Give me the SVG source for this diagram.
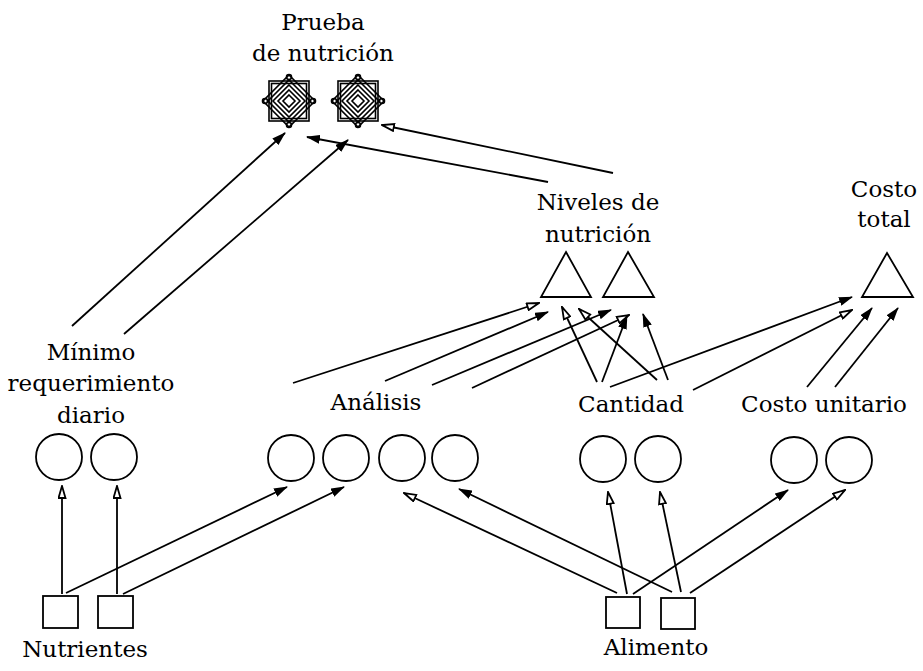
<svg xmlns="http://www.w3.org/2000/svg" width="923" height="671" viewBox="0 0 923 671">
  <style>
    .lbl { font-family: "DejaVu Serif", "Liberation Serif", serif; font-size: 23px; fill: #000; text-anchor: middle; }
    .shape { fill: #fff; stroke: #000; stroke-width: 1.8; }
    .edge { fill: none; stroke: #000; stroke-width: 1.8; }
    .icon { fill: none; stroke: #000; stroke-width: 1.6; }
  </style>
  <defs>
    <marker id="arrFill" viewBox="0 0 14 9" refX="13" refY="4.5" markerWidth="14" markerHeight="9" markerUnits="userSpaceOnUse" orient="auto">
      <path d="M0,0 L14,4.5 L0,9 Z" fill="#000"/>
    </marker>
    <marker id="arrOpen" viewBox="0 0 14 9" refX="13" refY="4.5" markerWidth="14" markerHeight="9" markerUnits="userSpaceOnUse" orient="auto">
      <path d="M1,1 L13,4.5 L1,8 Z" fill="#fff" stroke="#000" stroke-width="1.8"/>
    </marker>
    <!-- octagram badge with nested diamonds -->
    <g id="testIcon">
      <rect x="-20" y="-20" width="40" height="40" class="icon" fill="#fff"/>
      <rect x="-17.5" y="-17.5" width="35" height="35" class="icon"/>
      <polygon points="0,-26 26,0 0,26 -26,0" class="icon"/>
      <polygon points="0,-21 21,0 0,21 -21,0" class="icon"/>
      <polygon points="0,-16 16,0 0,16 -16,0" class="icon"/>
      <polygon points="0,-11 11,0 0,11 -11,0" class="icon"/>
      <polygon points="0,-6 6,0 0,6 -6,0" class="icon"/>
      <circle cx="0" cy="-24" r="2.5" class="icon"/>
      <circle cx="24" cy="0" r="2.5" class="icon"/>
      <circle cx="0" cy="24" r="2.5" class="icon"/>
      <circle cx="-24" cy="0" r="2.5" class="icon"/>
    </g>
  </defs>

  <rect width="923" height="671" fill="#fff"/>

  <!-- connectors -->
  <g id="connectors">
    <!-- Nutrientes to Mínimo requerimiento diario -->
    <line class="edge" x1="62" y1="594" x2="62" y2="486" marker-end="url(#arrOpen)"/>
    <line class="edge" x1="117" y1="594" x2="117" y2="486" marker-end="url(#arrOpen)"/>
    <!-- Nutrientes to Análisis -->
    <line class="edge" x1="66" y1="593" x2="287" y2="487" marker-end="url(#arrFill)"/>
    <line class="edge" x1="123" y1="594" x2="344" y2="487" marker-end="url(#arrFill)"/>
    <!-- Alimento to Análisis -->
    <line class="edge" x1="617" y1="593" x2="404" y2="493" marker-end="url(#arrOpen)"/>
    <line class="edge" x1="672" y1="592" x2="459" y2="489" marker-end="url(#arrFill)"/>
    <!-- Alimento to Cantidad -->
    <line class="edge" x1="627" y1="594" x2="608" y2="492" marker-end="url(#arrOpen)"/>
    <line class="edge" x1="681" y1="592" x2="660" y2="492" marker-end="url(#arrOpen)"/>
    <!-- Alimento to Costo unitario -->
    <line class="edge" x1="633" y1="594" x2="788" y2="490" marker-end="url(#arrFill)"/>
    <line class="edge" x1="690" y1="593" x2="845" y2="490" marker-end="url(#arrOpen)"/>
    <!-- Análisis to Niveles de nutrición -->
    <line class="edge" x1="293" y1="383" x2="539" y2="303" marker-end="url(#arrOpen)"/>
    <line class="edge" x1="385" y1="381" x2="548" y2="312" marker-end="url(#arrFill)"/>
    <line class="edge" x1="432" y1="385" x2="611" y2="310" marker-end="url(#arrFill)"/>
    <line class="edge" x1="472" y1="388" x2="629" y2="315" marker-end="url(#arrOpen)"/>
    <!-- Cantidad to Niveles de nutrición -->
    <line class="edge" x1="597" y1="382" x2="562" y2="307" marker-end="url(#arrOpen)"/>
    <line class="edge" x1="602" y1="382" x2="627" y2="316" marker-end="url(#arrFill)"/>
    <line class="edge" x1="657" y1="380" x2="579" y2="309" marker-end="url(#arrOpen)"/>
    <line class="edge" x1="668" y1="380" x2="643" y2="314" marker-end="url(#arrFill)"/>
    <!-- Cantidad to Costo total -->
    <line class="edge" x1="610" y1="387" x2="852" y2="297" marker-end="url(#arrFill)"/>
    <line class="edge" x1="693" y1="390" x2="852" y2="310" marker-end="url(#arrOpen)"/>
    <!-- Costo unitario to Costo total -->
    <line class="edge" x1="807" y1="387" x2="872" y2="308" marker-end="url(#arrFill)"/>
    <line class="edge" x1="835" y1="387" x2="898" y2="308" marker-end="url(#arrFill)"/>
    <!-- Mínimo requerimiento diario to Prueba de nutrición -->
    <line class="edge" x1="72" y1="326" x2="285" y2="133" marker-end="url(#arrFill)"/>
    <line class="edge" x1="124" y1="334" x2="348" y2="140" marker-end="url(#arrFill)"/>
    <!-- Niveles de nutrición to Prueba de nutrición -->
    <line class="edge" x1="548" y1="182" x2="307" y2="137" marker-end="url(#arrFill)"/>
    <line class="edge" x1="613" y1="173" x2="382" y2="125" marker-end="url(#arrOpen)"/>
  </g>

  <!-- Prueba de nutrición -->
  <g id="prueba">
    <use href="#testIcon" x="289" y="101"/>
    <use href="#testIcon" x="358" y="101"/>
    <text class="lbl" x="323" y="30">Prueba</text>
    <text class="lbl" x="323" y="61">de nutrición</text>
  </g>

  <!-- Niveles de nutrición -->
  <g id="niveles">
    <polygon class="shape" points="566,252 591,297 541,297"/>
    <polygon class="shape" points="628,252 654,297 603,297"/>
    <text class="lbl" x="598" y="210">Niveles de</text>
    <text class="lbl" x="598" y="242">nutrición</text>
  </g>

  <!-- Costo total -->
  <g id="costo-total">
    <polygon class="shape" points="887,253 913,297 862,297"/>
    <text class="lbl" x="884" y="197">Costo</text>
    <text class="lbl" x="884" y="227">total</text>
  </g>

  <!-- Mínimo requerimiento diario -->
  <g id="minimo">
    <circle class="shape" cx="59" cy="457" r="23"/>
    <circle class="shape" cx="114" cy="457" r="23"/>
    <text class="lbl" x="91" y="360">Mínimo</text>
    <text class="lbl" x="91" y="391">requerimiento</text>
    <text class="lbl" x="91" y="423">diario</text>
  </g>

  <!-- Análisis -->
  <g id="analisis">
    <circle class="shape" cx="291" cy="458" r="23"/>
    <circle class="shape" cx="346" cy="458" r="23"/>
    <circle class="shape" cx="402" cy="458" r="23"/>
    <circle class="shape" cx="455" cy="458" r="23"/>
    <text class="lbl" x="376" y="410">Análisis</text>
  </g>

  <!-- Cantidad -->
  <g id="cantidad">
    <circle class="shape" cx="603" cy="459" r="23"/>
    <circle class="shape" cx="658" cy="459" r="23"/>
    <text class="lbl" x="631" y="412">Cantidad</text>
  </g>

  <!-- Costo unitario -->
  <g id="costo-unitario">
    <circle class="shape" cx="794" cy="460" r="23"/>
    <circle class="shape" cx="849" cy="460" r="23"/>
    <text class="lbl" x="824" y="412">Costo unitario</text>
  </g>

  <!-- Nutrientes -->
  <g id="nutrientes">
    <rect class="shape" x="43" y="596" width="35" height="32"/>
    <rect class="shape" x="98" y="596" width="35" height="32"/>
    <text class="lbl" x="85" y="657">Nutrientes</text>
  </g>

  <!-- Alimento -->
  <g id="alimento">
    <rect class="shape" x="606" y="597" width="34" height="31"/>
    <rect class="shape" x="661" y="598" width="34" height="31"/>
    <text class="lbl" x="656" y="655">Alimento</text>
  </g>
</svg>
